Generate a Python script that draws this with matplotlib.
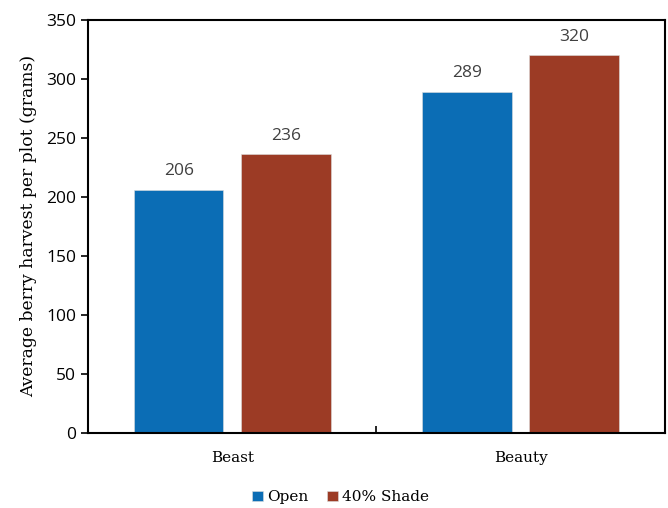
import numpy as np
import matplotlib.pyplot as plt

# Data
varieties = ['Beast', 'Beauty']
series = ['Open', '40% Shade']
open_vals = [206, 289]
shade_vals = [236, 320]
colors = ['#0B6DB5', '#9C3B25']

serif = 'DejaVu Serif'
sans = 'Open Sans'

fig, ax = plt.subplots(figsize=(6.68, 5.08), dpi=100)
fig.subplots_adjust(left=0.132, right=0.995, top=0.961, bottom=0.148)

x = np.arange(len(varieties))
width = 0.31
offset = 0.186

for vals, off, c, name in zip([open_vals, shade_vals], [-offset, offset], colors, series):
    bars = ax.bar(x + off, vals, width, color=c, label=name,
                  edgecolor='#dddddd', linewidth=0.4)
    for b, v in zip(bars, vals):
        ax.text(b.get_x() + b.get_width() / 2, v + 9, str(v), ha='center', va='bottom',
                fontsize=12.5, color='#404040', family=sans)

ax.set_xlim(-0.5, 1.5)
ax.set_ylim(0, 350)
ax.set_yticks(np.arange(0, 351, 50))
ax.tick_params(axis='y', labelsize=12.5, length=5, width=1.2, colors='black')
for lab in ax.get_yticklabels():
    lab.set_family(sans)

ax.set_xticks(x)
ax.set_xticklabels(varieties, family=serif, fontsize=11)
ax.tick_params(axis='x', length=0, pad=13)
ax.set_xticks([0.5], minor=True)
ax.tick_params(axis='x', which='minor', direction='in', length=5, width=1.2)

for s in ax.spines.values():
    s.set_linewidth(1.5)

ax.set_ylabel('Average berry harvest per plot (grams)', family=serif, fontsize=12.3, labelpad=7)

fig.legend(loc='lower center', bbox_to_anchor=(0.51, -0.02), ncol=2, frameon=False,
           prop={'family': serif, 'size': 11}, handlelength=0.7, handleheight=0.7,
           handletextpad=0.3, columnspacing=1.2)

fig.savefig('out.png', dpi=100)
